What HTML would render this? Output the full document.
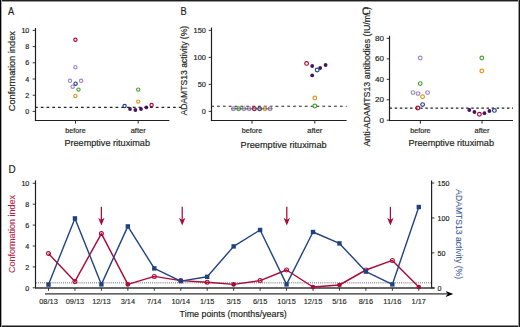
<!DOCTYPE html>
<html><head><meta charset="utf-8"><style>
html,body{margin:0;padding:0;background:#fff;}
body{width:520px;height:327px;overflow:hidden;}
svg{display:block;}
text{font-family:"Liberation Sans", sans-serif;}
</style></head><body>
<svg width="520" height="327" viewBox="0 0 520 327" font-family="'Liberation Sans', sans-serif">
<rect x="0" y="0" width="520" height="327" fill="#fff"/>
<text transform="translate(7.9,15.2) scale(0.86,1)" font-size="10.8" fill="#231f20" stroke="#231f20" stroke-width="0.18">A</text>
<text transform="translate(180.6,15.4) scale(0.86,1)" font-size="10.8" fill="#231f20" stroke="#231f20" stroke-width="0.18">B</text>
<text transform="translate(362.0,15.0) scale(0.86,1)" font-size="10.8" fill="#231f20" stroke="#231f20" stroke-width="0.18">C</text>
<text transform="translate(8.6,173.0) scale(0.92,1)" font-size="10.8" fill="#231f20" stroke="#231f20" stroke-width="0.18">D</text>
<line x1="35.5" y1="28.0" x2="35.5" y2="121.1" stroke="#231f20" stroke-width="1.2" />
<line x1="34.9" y1="120.5" x2="169.4" y2="120.5" stroke="#231f20" stroke-width="1.2" />
<line x1="32.7" y1="111.4" x2="35.5" y2="111.4" stroke="#231f20" stroke-width="0.9" />
<text x="29.3" y="114.03" font-size="7.1" text-anchor="end" fill="#231f20" stroke="#231f20" stroke-width="0.18" >0</text>
<line x1="32.7" y1="95.2" x2="35.5" y2="95.2" stroke="#231f20" stroke-width="0.9" />
<text x="29.3" y="97.83" font-size="7.1" text-anchor="end" fill="#231f20" stroke="#231f20" stroke-width="0.18" >2</text>
<line x1="32.7" y1="79.0" x2="35.5" y2="79.0" stroke="#231f20" stroke-width="0.9" />
<text x="29.3" y="81.63" font-size="7.1" text-anchor="end" fill="#231f20" stroke="#231f20" stroke-width="0.18" >4</text>
<line x1="32.7" y1="62.8" x2="35.5" y2="62.8" stroke="#231f20" stroke-width="0.9" />
<text x="29.3" y="65.43" font-size="7.1" text-anchor="end" fill="#231f20" stroke="#231f20" stroke-width="0.18" >6</text>
<line x1="32.7" y1="46.6" x2="35.5" y2="46.6" stroke="#231f20" stroke-width="0.9" />
<text x="29.3" y="49.23" font-size="7.1" text-anchor="end" fill="#231f20" stroke="#231f20" stroke-width="0.18" >8</text>
<line x1="32.7" y1="30.4" x2="35.5" y2="30.4" stroke="#231f20" stroke-width="0.9" />
<text x="29.3" y="33.03" font-size="7.1" text-anchor="end" fill="#231f20" stroke="#231f20" stroke-width="0.18" >10</text>
<line x1="35.05" y1="107.4" x2="181" y2="107.4" stroke="#222" stroke-width="1.15" stroke-dasharray="2.7 3.05"/>
<line x1="75.5" y1="120.5" x2="75.5" y2="123.6" stroke="#231f20" stroke-width="0.95" />
<line x1="138.2" y1="120.5" x2="138.2" y2="123.6" stroke="#231f20" stroke-width="0.95" />
<text x="75.5" y="132.7" font-size="7.5" text-anchor="middle" fill="#231f20" stroke="#231f20" stroke-width="0.18" textLength="20.4" lengthAdjust="spacingAndGlyphs" >before</text>
<text x="138.2" y="132.7" font-size="7.5" text-anchor="middle" fill="#231f20" stroke="#231f20" stroke-width="0.18" textLength="15.0" lengthAdjust="spacingAndGlyphs" >after</text>
<text x="64.4" y="146.4" font-size="9.2" text-anchor="start" fill="#231f20" stroke="#231f20" stroke-width="0.18" textLength="85.6" lengthAdjust="spacingAndGlyphs" >Preemptive rituximab</text>
<text transform="translate(15.3,111.2) rotate(-90)" x="0" y="0" font-size="9" fill="#231f20" stroke="#231f20" stroke-width="0.18" textLength="80.1" lengthAdjust="spacingAndGlyphs">Conformation index</text>
<line x1="211.5" y1="27.5" x2="211.5" y2="121.1" stroke="#231f20" stroke-width="1.2" />
<line x1="210.9" y1="120.5" x2="346.6" y2="120.5" stroke="#231f20" stroke-width="1.2" />
<line x1="208.7" y1="111.4" x2="211.5" y2="111.4" stroke="#231f20" stroke-width="0.9" />
<text x="205.9" y="114.14" font-size="7.4" text-anchor="end" fill="#231f20" stroke="#231f20" stroke-width="0.18" >0</text>
<line x1="208.7" y1="84.4" x2="211.5" y2="84.4" stroke="#231f20" stroke-width="0.9" />
<text x="205.9" y="87.14" font-size="7.4" text-anchor="end" fill="#231f20" stroke="#231f20" stroke-width="0.18" >50</text>
<line x1="208.7" y1="57.4" x2="211.5" y2="57.4" stroke="#231f20" stroke-width="0.9" />
<text x="205.9" y="60.14" font-size="7.4" text-anchor="end" fill="#231f20" stroke="#231f20" stroke-width="0.18" >100</text>
<line x1="208.7" y1="30.4" x2="211.5" y2="30.4" stroke="#231f20" stroke-width="0.9" />
<text x="205.9" y="33.14" font-size="7.4" text-anchor="end" fill="#231f20" stroke="#231f20" stroke-width="0.18" >150</text>
<line x1="211.2" y1="106.2" x2="346.6" y2="106.2" stroke="#222" stroke-width="1.15" stroke-dasharray="2.8 3.05"/>
<line x1="252.0" y1="120.5" x2="252.0" y2="123.6" stroke="#231f20" stroke-width="0.95" />
<line x1="314.8" y1="120.5" x2="314.8" y2="123.6" stroke="#231f20" stroke-width="0.95" />
<text x="252.0" y="132.7" font-size="7.5" text-anchor="middle" fill="#231f20" stroke="#231f20" stroke-width="0.18" textLength="20.4" lengthAdjust="spacingAndGlyphs" >before</text>
<text x="314.8" y="132.7" font-size="7.5" text-anchor="middle" fill="#231f20" stroke="#231f20" stroke-width="0.18" textLength="15.0" lengthAdjust="spacingAndGlyphs" >after</text>
<text x="240.6" y="148.0" font-size="9.2" text-anchor="start" fill="#231f20" stroke="#231f20" stroke-width="0.18" textLength="86.0" lengthAdjust="spacingAndGlyphs" >Preemptive rituximab</text>
<text transform="translate(187.0,115.6) rotate(-90)" x="0" y="0" font-size="9" fill="#231f20" stroke="#231f20" stroke-width="0.18" textLength="89.8" lengthAdjust="spacingAndGlyphs">ADAMTS13 activity (%)</text>
<line x1="389.5" y1="35.8" x2="389.5" y2="121.1" stroke="#231f20" stroke-width="1.2" />
<line x1="388.9" y1="120.5" x2="513.0" y2="120.5" stroke="#231f20" stroke-width="1.2" />
<line x1="386.7" y1="120.2" x2="389.5" y2="120.2" stroke="#231f20" stroke-width="0.9" />
<text x="383.9" y="122.71" font-size="8.1" text-anchor="end" fill="#231f20" stroke="#231f20" stroke-width="0.18" >0</text>
<line x1="386.7" y1="99.75" x2="389.5" y2="99.75" stroke="#231f20" stroke-width="0.9" />
<text x="383.9" y="102.26" font-size="8.1" text-anchor="end" fill="#231f20" stroke="#231f20" stroke-width="0.18" >20</text>
<line x1="386.7" y1="79.3" x2="389.5" y2="79.3" stroke="#231f20" stroke-width="0.9" />
<text x="383.9" y="81.81" font-size="8.1" text-anchor="end" fill="#231f20" stroke="#231f20" stroke-width="0.18" >40</text>
<line x1="386.7" y1="58.85" x2="389.5" y2="58.85" stroke="#231f20" stroke-width="0.9" />
<text x="383.9" y="61.36" font-size="8.1" text-anchor="end" fill="#231f20" stroke="#231f20" stroke-width="0.18" >60</text>
<line x1="386.7" y1="38.4" x2="389.5" y2="38.4" stroke="#231f20" stroke-width="0.9" />
<text x="383.9" y="40.91" font-size="8.1" text-anchor="end" fill="#231f20" stroke="#231f20" stroke-width="0.18" >80</text>
<line x1="389.6" y1="108.1" x2="513.0" y2="108.1" stroke="#222" stroke-width="1.15" stroke-dasharray="2.5 2.6"/>
<line x1="420.4" y1="120.5" x2="420.4" y2="123.6" stroke="#231f20" stroke-width="0.95" />
<line x1="482.0" y1="120.5" x2="482.0" y2="123.6" stroke="#231f20" stroke-width="0.95" />
<text x="420.4" y="132.7" font-size="7.5" text-anchor="middle" fill="#231f20" stroke="#231f20" stroke-width="0.18" textLength="20.4" lengthAdjust="spacingAndGlyphs" >before</text>
<text x="482.0" y="132.7" font-size="7.5" text-anchor="middle" fill="#231f20" stroke="#231f20" stroke-width="0.18" textLength="15.0" lengthAdjust="spacingAndGlyphs" >after</text>
<text x="408.4" y="146.1" font-size="9.2" text-anchor="start" fill="#231f20" stroke="#231f20" stroke-width="0.18" textLength="85.6" lengthAdjust="spacingAndGlyphs" >Preemptive rituximab</text>
<text transform="translate(369.8,146.6) rotate(-90)" x="0" y="0" font-size="9" fill="#231f20" stroke="#231f20" stroke-width="0.18" textLength="139.6" lengthAdjust="spacingAndGlyphs">Anti-ADAMTS13 antibodies (IU/mL)</text>
<circle cx="70" cy="80.8" r="1.65" fill="none" stroke="#a087c6" stroke-width="1.15"/>
<circle cx="81.1" cy="80.8" r="1.65" fill="none" stroke="#a087c6" stroke-width="1.15"/>
<circle cx="72.6" cy="86.7" r="1.65" fill="none" stroke="#a087c6" stroke-width="1.15"/>
<circle cx="75.6" cy="83.7" r="1.65" fill="none" stroke="#20437f" stroke-width="1.15"/>
<circle cx="78.5" cy="89.6" r="1.65" fill="none" stroke="#48a23a" stroke-width="1.15"/>
<circle cx="75.4" cy="95.9" r="1.65" fill="none" stroke="#e6951f" stroke-width="1.15"/>
<circle cx="75.4" cy="67.2" r="1.65" fill="none" stroke="#a087c6" stroke-width="1.15"/>
<circle cx="75.4" cy="39.8" r="1.65" fill="none" stroke="#aa0a38" stroke-width="1.15"/>
<circle cx="138.2" cy="89.6" r="1.65" fill="none" stroke="#48a23a" stroke-width="1.15"/>
<circle cx="138.2" cy="101.6" r="1.65" fill="none" stroke="#e6951f" stroke-width="1.15"/>
<circle cx="124.6" cy="106.0" r="1.65" fill="none" stroke="#20437f" stroke-width="1.15"/>
<circle cx="151.6" cy="105.0" r="1.65" fill="none" stroke="#aa0a38" stroke-width="1.15"/>
<circle cx="130" cy="109" r="1.9" fill="#46145f"/>
<circle cx="135.4" cy="110" r="1.9" fill="#46145f"/>
<circle cx="141" cy="109" r="1.9" fill="#46145f"/>
<circle cx="146.4" cy="107.4" r="1.9" fill="#46145f"/>
<circle cx="233.5" cy="108.8" r="1.85" fill="none" stroke="#a087c6" stroke-width="1.2"/>
<circle cx="238.72" cy="108.8" r="1.85" fill="none" stroke="#48a23a" stroke-width="1.2"/>
<circle cx="243.94" cy="108.8" r="1.85" fill="none" stroke="#a087c6" stroke-width="1.2"/>
<circle cx="249.16" cy="108.8" r="1.85" fill="none" stroke="#a087c6" stroke-width="1.2"/>
<circle cx="254.38" cy="108.8" r="1.85" fill="none" stroke="#aa0a38" stroke-width="1.2"/>
<circle cx="259.6" cy="108.8" r="1.85" fill="none" stroke="#20437f" stroke-width="1.2"/>
<circle cx="264.82" cy="108.8" r="1.85" fill="none" stroke="#e6951f" stroke-width="1.2"/>
<circle cx="270.04" cy="108.8" r="1.85" fill="none" stroke="#a087c6" stroke-width="1.2"/>
<line x1="231" y1="108.8" x2="272.5" y2="108.8" stroke="#333" stroke-width="0.7" />
<circle cx="306.6" cy="63.4" r="1.85" fill="none" stroke="#aa0a38" stroke-width="1.2"/>
<circle cx="312.2" cy="66.0" r="1.9" fill="#46145f"/>
<circle cx="320.2" cy="68.0" r="1.9" fill="#46145f"/>
<circle cx="317.2" cy="70.0" r="1.85" fill="none" stroke="#20437f" stroke-width="1.2"/>
<circle cx="325.6" cy="65.0" r="1.9" fill="#46145f"/>
<circle cx="312.2" cy="75.4" r="1.9" fill="#46145f"/>
<circle cx="314.8" cy="98.0" r="1.85" fill="none" stroke="#e6951f" stroke-width="1.2"/>
<circle cx="314.8" cy="106.0" r="1.85" fill="none" stroke="#48a23a" stroke-width="1.2"/>
<circle cx="420.2" cy="58.0" r="1.85" fill="none" stroke="#a087c6" stroke-width="1.2"/>
<circle cx="420.2" cy="83.6" r="1.85" fill="none" stroke="#48a23a" stroke-width="1.2"/>
<circle cx="413.0" cy="92.6" r="1.85" fill="none" stroke="#a087c6" stroke-width="1.2"/>
<circle cx="418.0" cy="93.6" r="1.85" fill="none" stroke="#a087c6" stroke-width="1.2"/>
<circle cx="427.6" cy="92.6" r="1.85" fill="none" stroke="#a087c6" stroke-width="1.2"/>
<circle cx="422.6" cy="96.8" r="1.85" fill="none" stroke="#e6951f" stroke-width="1.2"/>
<circle cx="422.6" cy="104.6" r="1.85" fill="none" stroke="#20437f" stroke-width="1.2"/>
<circle cx="417.8" cy="108.0" r="1.85" fill="none" stroke="#aa0a38" stroke-width="1.2"/>
<circle cx="481.8" cy="58.0" r="1.85" fill="none" stroke="#48a23a" stroke-width="1.2"/>
<circle cx="481.8" cy="71.0" r="1.85" fill="none" stroke="#e6951f" stroke-width="1.2"/>
<circle cx="469.3" cy="110.0" r="1.9" fill="#46145f"/>
<circle cx="474.4" cy="112.0" r="1.9" fill="#46145f"/>
<circle cx="479.4" cy="114.2" r="1.85" fill="none" stroke="#aa0a38" stroke-width="1.2"/>
<circle cx="484.4" cy="113.2" r="1.9" fill="#46145f"/>
<circle cx="489.4" cy="111.0" r="1.9" fill="#46145f"/>
<circle cx="494.4" cy="110.4" r="1.85" fill="none" stroke="#20437f" stroke-width="1.2"/>
<line x1="35.5" y1="180.4" x2="35.5" y2="288.3" stroke="#231f20" stroke-width="1.2" />
<line x1="32.7" y1="287.8" x2="35.5" y2="287.8" stroke="#231f20" stroke-width="0.9" />
<text x="29.3" y="290.55" font-size="7.1" text-anchor="end" fill="#231f20" stroke="#231f20" stroke-width="0.18" >0</text>
<line x1="32.7" y1="266.9" x2="35.5" y2="266.9" stroke="#231f20" stroke-width="0.9" />
<text x="29.3" y="269.65" font-size="7.1" text-anchor="end" fill="#231f20" stroke="#231f20" stroke-width="0.18" >2</text>
<line x1="32.7" y1="246.0" x2="35.5" y2="246.0" stroke="#231f20" stroke-width="0.9" />
<text x="29.3" y="248.75" font-size="7.1" text-anchor="end" fill="#231f20" stroke="#231f20" stroke-width="0.18" >4</text>
<line x1="32.7" y1="225.1" x2="35.5" y2="225.1" stroke="#231f20" stroke-width="0.9" />
<text x="29.3" y="227.85" font-size="7.1" text-anchor="end" fill="#231f20" stroke="#231f20" stroke-width="0.18" >6</text>
<line x1="32.7" y1="204.2" x2="35.5" y2="204.2" stroke="#231f20" stroke-width="0.9" />
<text x="29.3" y="206.95" font-size="7.1" text-anchor="end" fill="#231f20" stroke="#231f20" stroke-width="0.18" >8</text>
<line x1="32.7" y1="183.3" x2="35.5" y2="183.3" stroke="#231f20" stroke-width="0.9" />
<text x="29.3" y="186.05" font-size="7.1" text-anchor="end" fill="#231f20" stroke="#231f20" stroke-width="0.18" >10</text>
<line x1="431.6" y1="180.4" x2="431.6" y2="288.3" stroke="#231f20" stroke-width="1.2" />
<line x1="431.6" y1="287.8" x2="434.40000000000003" y2="287.8" stroke="#231f20" stroke-width="0.9" />
<text x="437.6" y="290.55" font-size="7.1" text-anchor="start" fill="#231f20" stroke="#231f20" stroke-width="0.18" >0</text>
<line x1="431.6" y1="252.87" x2="434.40000000000003" y2="252.87" stroke="#231f20" stroke-width="0.9" />
<text x="437.6" y="255.62" font-size="7.1" text-anchor="start" fill="#231f20" stroke="#231f20" stroke-width="0.18" >50</text>
<line x1="431.6" y1="217.93" x2="434.40000000000003" y2="217.93" stroke="#231f20" stroke-width="0.9" />
<text x="437.6" y="220.68" font-size="7.1" text-anchor="start" fill="#231f20" stroke="#231f20" stroke-width="0.18" >100</text>
<line x1="431.6" y1="183.0" x2="434.40000000000003" y2="183.0" stroke="#231f20" stroke-width="0.9" />
<text x="437.6" y="185.75" font-size="7.1" text-anchor="start" fill="#231f20" stroke="#231f20" stroke-width="0.18" >150</text>
<line x1="35.0" y1="288.0" x2="434.6" y2="288.0" stroke="#333" stroke-width="1.4" />
<line x1="36.2" y1="282.8" x2="431" y2="282.8" stroke="#777" stroke-width="1.5" stroke-dasharray="0.7 1.23"/>
<line x1="48.5" y1="288.2" x2="48.5" y2="290.8" stroke="#231f20" stroke-width="0.9" />
<text x="48.5" y="303.5" font-size="7.4" text-anchor="middle" fill="#231f20" stroke="#231f20" stroke-width="0.13">08/13</text>
<line x1="74.95" y1="288.2" x2="74.95" y2="290.8" stroke="#231f20" stroke-width="0.9" />
<text x="74.95" y="303.5" font-size="7.4" text-anchor="middle" fill="#231f20" stroke="#231f20" stroke-width="0.13">09/13</text>
<line x1="101.4" y1="288.2" x2="101.4" y2="290.8" stroke="#231f20" stroke-width="0.9" />
<text x="101.4" y="303.5" font-size="7.4" text-anchor="middle" fill="#231f20" stroke="#231f20" stroke-width="0.13">12/13</text>
<line x1="127.85" y1="288.2" x2="127.85" y2="290.8" stroke="#231f20" stroke-width="0.9" />
<text x="127.85" y="303.5" font-size="7.4" text-anchor="middle" fill="#231f20" stroke="#231f20" stroke-width="0.13">3/14</text>
<line x1="154.3" y1="288.2" x2="154.3" y2="290.8" stroke="#231f20" stroke-width="0.9" />
<text x="154.3" y="303.5" font-size="7.4" text-anchor="middle" fill="#231f20" stroke="#231f20" stroke-width="0.13">7/14</text>
<line x1="180.75" y1="288.2" x2="180.75" y2="290.8" stroke="#231f20" stroke-width="0.9" />
<text x="180.75" y="303.5" font-size="7.4" text-anchor="middle" fill="#231f20" stroke="#231f20" stroke-width="0.13">10/14</text>
<line x1="207.2" y1="288.2" x2="207.2" y2="290.8" stroke="#231f20" stroke-width="0.9" />
<text x="207.2" y="303.5" font-size="7.4" text-anchor="middle" fill="#231f20" stroke="#231f20" stroke-width="0.13">1/15</text>
<line x1="233.65" y1="288.2" x2="233.65" y2="290.8" stroke="#231f20" stroke-width="0.9" />
<text x="233.65" y="303.5" font-size="7.4" text-anchor="middle" fill="#231f20" stroke="#231f20" stroke-width="0.13">3/15</text>
<line x1="260.1" y1="288.2" x2="260.1" y2="290.8" stroke="#231f20" stroke-width="0.9" />
<text x="260.1" y="303.5" font-size="7.4" text-anchor="middle" fill="#231f20" stroke="#231f20" stroke-width="0.13">6/15</text>
<line x1="286.55" y1="288.2" x2="286.55" y2="290.8" stroke="#231f20" stroke-width="0.9" />
<text x="286.55" y="303.5" font-size="7.4" text-anchor="middle" fill="#231f20" stroke="#231f20" stroke-width="0.13">10/15</text>
<line x1="313.0" y1="288.2" x2="313.0" y2="290.8" stroke="#231f20" stroke-width="0.9" />
<text x="313.0" y="303.5" font-size="7.4" text-anchor="middle" fill="#231f20" stroke="#231f20" stroke-width="0.13">12/15</text>
<line x1="339.45" y1="288.2" x2="339.45" y2="290.8" stroke="#231f20" stroke-width="0.9" />
<text x="339.45" y="303.5" font-size="7.4" text-anchor="middle" fill="#231f20" stroke="#231f20" stroke-width="0.13">5/16</text>
<line x1="365.9" y1="288.2" x2="365.9" y2="290.8" stroke="#231f20" stroke-width="0.9" />
<text x="365.9" y="303.5" font-size="7.4" text-anchor="middle" fill="#231f20" stroke="#231f20" stroke-width="0.13">8/16</text>
<line x1="392.35" y1="288.2" x2="392.35" y2="290.8" stroke="#231f20" stroke-width="0.9" />
<text x="392.35" y="303.5" font-size="7.4" text-anchor="middle" fill="#231f20" stroke="#231f20" stroke-width="0.13">11/16</text>
<line x1="418.8" y1="288.2" x2="418.8" y2="290.8" stroke="#231f20" stroke-width="0.9" />
<text x="418.8" y="303.5" font-size="7.4" text-anchor="middle" fill="#231f20" stroke="#231f20" stroke-width="0.13">1/17</text>
<line x1="45" y1="293.9" x2="447" y2="293.9" stroke="#333" stroke-width="1.4" />
<path d="M453.3,293.95 L445.6,290.9 L447.6,293.95 L445.6,297.0 Z" fill="#000"/>
<text x="179.6" y="317" font-size="9.2" text-anchor="start" fill="#231f20" stroke="#231f20" stroke-width="0.18" textLength="107.2" lengthAdjust="spacingAndGlyphs" >Time points (months/years)</text>
<text transform="translate(15.2,273) rotate(-90)" font-size="9" fill="#b21a45" stroke="#b21a45" stroke-width="0.08" textLength="78" lengthAdjust="spacingAndGlyphs">Conformation index</text>
<text transform="translate(456.4,189.3) rotate(90)" font-size="8.6" fill="#35559a" stroke="#35559a" stroke-width="0.06" textLength="89.7" lengthAdjust="spacingAndGlyphs">ADAMTS13 activity (%)</text>
<polyline points="48.5,253.6 74.95,281.4 101.4,233.6 127.85,284.4 154.3,276.4 180.75,280.6 207.2,282.2 233.65,284.4 260.1,280.6 286.55,270.0 313.0,287.0 339.45,285.0 365.9,270.0 392.35,260.4 418.8,287.0" fill="none" stroke="#aa0a38" stroke-width="1.45" stroke-linejoin="round"/>
<circle cx="48.5" cy="253.6" r="1.95" fill="none" stroke="#aa0a38" stroke-width="1.1"/>
<circle cx="74.95" cy="281.4" r="1.95" fill="none" stroke="#aa0a38" stroke-width="1.1"/>
<circle cx="101.4" cy="233.6" r="1.95" fill="none" stroke="#aa0a38" stroke-width="1.1"/>
<circle cx="127.85" cy="284.4" r="2.3" fill="#aa0a38"/>
<circle cx="154.3" cy="276.4" r="1.95" fill="none" stroke="#aa0a38" stroke-width="1.1"/>
<circle cx="180.75" cy="280.6" r="1.95" fill="none" stroke="#aa0a38" stroke-width="1.1"/>
<circle cx="207.2" cy="282.2" r="1.95" fill="none" stroke="#aa0a38" stroke-width="1.1"/>
<circle cx="233.65" cy="284.4" r="2.3" fill="#aa0a38"/>
<circle cx="260.1" cy="280.6" r="1.95" fill="none" stroke="#aa0a38" stroke-width="1.1"/>
<circle cx="286.55" cy="270.0" r="1.95" fill="none" stroke="#aa0a38" stroke-width="1.1"/>
<circle cx="313.0" cy="287.0" r="2.3" fill="#aa0a38"/>
<circle cx="339.45" cy="285.0" r="2.3" fill="#aa0a38"/>
<circle cx="365.9" cy="270.0" r="1.95" fill="none" stroke="#aa0a38" stroke-width="1.1"/>
<circle cx="392.35" cy="260.4" r="1.95" fill="none" stroke="#aa0a38" stroke-width="1.1"/>
<circle cx="418.8" cy="287.0" r="2.3" fill="#aa0a38"/>
<polyline points="48.5,284.6 74.95,218.4 101.4,284.4 127.85,226.4 154.3,268.4 180.75,281.1 207.2,276.8 233.65,246.4 260.1,230.0 286.55,284.4 313.0,232.0 339.45,243.4 365.9,271.6 392.35,284.4 418.8,207.0" fill="none" stroke="#20437f" stroke-width="1.4" stroke-linejoin="round"/>
<rect x="46.3" y="282.4" width="4.4" height="4.4" fill="#20437f"/>
<rect x="72.75" y="216.2" width="4.4" height="4.4" fill="#20437f"/>
<rect x="99.2" y="282.2" width="4.4" height="4.4" fill="#20437f"/>
<rect x="125.65" y="224.2" width="4.4" height="4.4" fill="#20437f"/>
<rect x="152.1" y="266.2" width="4.4" height="4.4" fill="#20437f"/>
<rect x="178.55" y="278.9" width="4.4" height="4.4" fill="#20437f"/>
<rect x="205.0" y="274.6" width="4.4" height="4.4" fill="#20437f"/>
<rect x="231.45" y="244.2" width="4.4" height="4.4" fill="#20437f"/>
<rect x="257.9" y="227.8" width="4.4" height="4.4" fill="#20437f"/>
<rect x="284.35" y="282.2" width="4.4" height="4.4" fill="#20437f"/>
<rect x="310.8" y="229.8" width="4.4" height="4.4" fill="#20437f"/>
<rect x="337.25" y="241.2" width="4.4" height="4.4" fill="#20437f"/>
<rect x="363.7" y="269.4" width="4.4" height="4.4" fill="#20437f"/>
<rect x="390.15" y="282.2" width="4.4" height="4.4" fill="#20437f"/>
<rect x="416.6" y="204.8" width="4.4" height="4.4" fill="#20437f"/>
<line x1="101.4" y1="206.8" x2="101.4" y2="221" stroke="#aa0a38" stroke-width="1.25" />
<path d="M101.4,225.6 L98.2,217.8 L101.4,219.9 L104.6,217.8 Z" fill="#aa0a38"/>
<line x1="182.2" y1="206.8" x2="182.2" y2="221" stroke="#aa0a38" stroke-width="1.25" />
<path d="M182.2,225.6 L179.0,217.8 L182.2,219.9 L185.4,217.8 Z" fill="#aa0a38"/>
<line x1="286.8" y1="206.8" x2="286.8" y2="221" stroke="#aa0a38" stroke-width="1.25" />
<path d="M286.8,225.6 L283.6,217.8 L286.8,219.9 L290.0,217.8 Z" fill="#aa0a38"/>
<line x1="390.4" y1="206.8" x2="390.4" y2="221" stroke="#aa0a38" stroke-width="1.25" />
<path d="M390.4,225.6 L387.2,217.8 L390.4,219.9 L393.6,217.8 Z" fill="#aa0a38"/>
<rect x="0" y="0" width="520" height="1" fill="#1e1e1e"/>
<rect x="0" y="1" width="520" height="1" fill="#9a9a9a"/>
<rect x="0" y="325" width="520" height="1" fill="#8c8c8c"/>
<rect x="0" y="326" width="520" height="1" fill="#1c1c1c"/>
<rect x="1" y="0" width="1" height="327" fill="#a8a8a8"/>
<rect x="0" y="0" width="1" height="327" fill="#000"/>
<rect x="518" y="0" width="1" height="327" fill="#9a9a9a"/>
<rect x="519" y="0" width="1" height="327" fill="#141414"/>
</svg>
</body></html>
